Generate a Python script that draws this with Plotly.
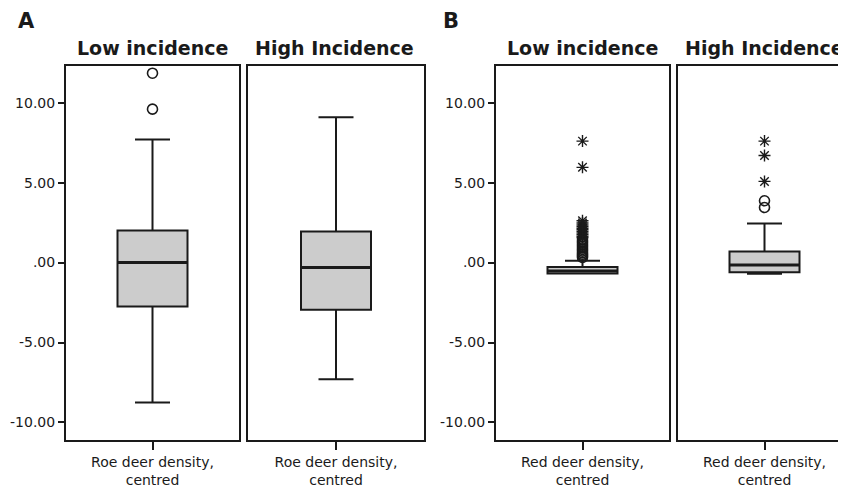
import plotly.graph_objects as go

# ---- data ----
panel_titles = ["Low incidence", "High Incidence", "Low incidence", "High Incidence"]
x_labels = ["Roe deer density,<br>centred", "Roe deer density,<br>centred",
            "Red deer density,<br>centred", "Red deer density,<br>centred"]
q1 = [-2.75, -2.95, -0.68, -0.60]
median = [0.00, -0.30, -0.52, -0.15]
q3 = [2.00, 1.95, -0.28, 0.70]
lower_fence = [-8.75, -7.30, -0.68, -0.70]
upper_fence = [7.70, 9.10, 0.12, 2.45]
circle_outliers = [
    [9.60, 11.85],
    [],
    [0.32, 0.42, 0.52, 0.62, 0.72, 0.82, 0.92, 1.02, 1.12, 1.22, 1.32, 1.42],
    [3.45, 3.87],
]
star_outliers = [
    [],
    [],
    [1.55, 1.65, 1.75, 1.85, 1.95, 2.05, 2.15, 2.25, 2.35, 2.48, 2.62, 5.96, 7.60],
    [5.08, 6.70, 7.60],
]
y_ticks = [-10, -5, 0, 5, 10]
y_ticktext = ["-10.00", "-5.00", ".00", "5.00", "10.00"]

# ---- layout geometry (window pixels; page body has an 8px margin) ----
OFF = 8
W, H = 846 - OFF, 488 - OFF
col_px = [(66, 239), (248, 424), (496, 669), (678, 851)]
plot_top, plot_bot = 66, 440
unit_px = 173.0
box_w = 70 / unit_px
y_range = [-11.1, 12.3]

def fx(px):
    return (px - OFF) / W

def fy(py):
    return 1 - (py - OFF) / H

FONT = "DejaVu Sans"
INK = "#1a1a1a"
fig = go.Figure()
layout = dict(width=W, height=H, margin=dict(l=0, r=0, t=0, b=0),
              paper_bgcolor="white", plot_bgcolor="white", showlegend=False,
              font=dict(family=FONT, color=INK))

for i in range(4):
    xa = "x" if i == 0 else f"x{i+1}"
    ya = "y" if i == 0 else f"y{i+1}"
    x0, x1 = col_px[i]
    x1c = min(x1, 846)
    half = (x1 - x0) / 2 / unit_px
    rng = [-half, -half + (x1c - x0) / unit_px]
    fig.add_trace(go.Box(
        x=[0], q1=[q1[i]], median=[median[i]], q3=[q3[i]],
        lowerfence=[lower_fence[i]], upperfence=[upper_fence[i]],
        width=box_w, whiskerwidth=0.5, boxpoints=False,
        fillcolor="#cccccc", line=dict(color=INK, width=2),
        xaxis=xa, yaxis=ya, hoverinfo="skip"))
    # thicker median line
    fig.add_trace(go.Scatter(
        x=[-box_w / 2, box_w / 2], y=[median[i], median[i]], mode="lines",
        line=dict(color=INK, width=3), xaxis=xa, yaxis=ya, hoverinfo="skip"))
    if circle_outliers[i]:
        fig.add_trace(go.Scatter(
            x=[0] * len(circle_outliers[i]), y=circle_outliers[i], mode="markers",
            marker=dict(symbol="circle-open", size=10, color=INK, line=dict(width=1.6, color=INK)),
            xaxis=xa, yaxis=ya, hoverinfo="skip"))
    if star_outliers[i]:
        fig.add_trace(go.Scatter(
            x=[0] * len(star_outliers[i]), y=star_outliers[i], mode="markers",
            marker=dict(symbol="asterisk-open", size=10, color=INK, line=dict(width=1.4, color=INK)),
            xaxis=xa, yaxis=ya, hoverinfo="skip"))

    xkey = "xaxis" if i == 0 else f"xaxis{i+1}"
    ykey = "yaxis" if i == 0 else f"yaxis{i+1}"
    layout[xkey] = dict(
        domain=[fx(x0), min(fx(x1c), 1.0)], range=rng, anchor=ya,
        showline=True, linecolor=INK, linewidth=2, mirror=True,
        showgrid=False, zeroline=False,
        tickmode="array", tickvals=[0], ticktext=[x_labels[i]],
        ticks="outside", ticklen=8, tickwidth=2, tickcolor=INK,
        tickfont=dict(family=FONT, size=14, color=INK), fixedrange=True)
    show_y = i in (0, 2)
    layout[ykey] = dict(
        domain=[fy(plot_bot), fy(plot_top)], range=y_range, anchor=xa,
        showline=True, linecolor=INK, linewidth=2, mirror=(i != 3),
        showgrid=False, zeroline=False,
        tickmode="array", tickvals=y_ticks, ticktext=y_ticktext,
        ticks="outside" if show_y else "", ticklen=6, tickwidth=2, tickcolor=INK,
        showticklabels=show_y,
        tickfont=dict(family=FONT, size=14, color=INK), fixedrange=True)

annotations = []
for i in range(4):
    x0, _ = col_px[i]
    cx = x0 + 86.5
    annotations.append(dict(
        text=f"<b>{panel_titles[i]}</b>", x=fx(cx), y=fy(48),
        xref="paper", yref="paper", xanchor="center", yanchor="middle",
        showarrow=False, font=dict(family=FONT, size=19, color=INK)))
for letter, px in [("A", 16), ("B", 441)]:
    annotations.append(dict(
        text=f"<b>{letter}</b>", x=fx(px), y=fy(21),
        xref="paper", yref="paper", xanchor="left", yanchor="middle",
        showarrow=False, font=dict(family=FONT, size=21, color=INK)))
layout["annotations"] = annotations

fig.update_layout(**layout)
fig.write_html("out.html")
